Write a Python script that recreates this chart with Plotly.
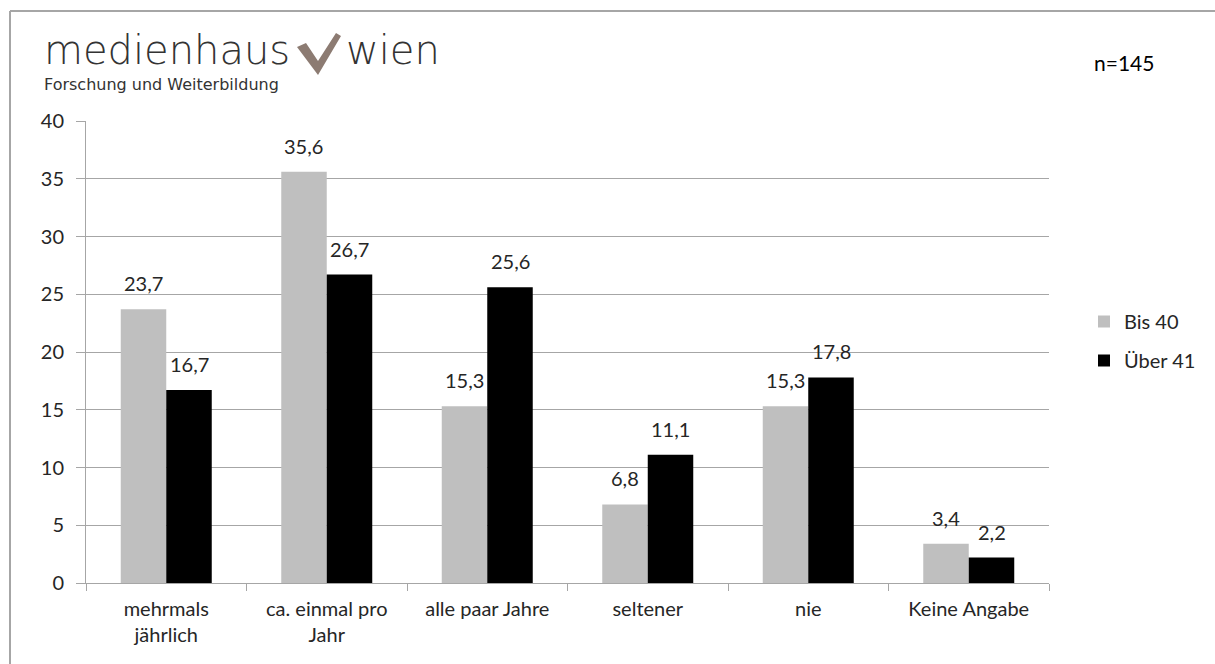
import plotly.graph_objects as go

categories = ["mehrmals<br>jährlich", "ca. einmal pro<br>Jahr", "alle paar Jahre",
              "seltener", "nie", "Keine Angabe"]
bis_40 = [23.7, 35.6, 15.3, 6.8, 15.3, 3.4]
ueber_41 = [16.7, 26.7, 25.6, 11.1, 17.8, 2.2]
series_names = ["Bis 40", "Über 41"]
y_ticks = [0, 5, 10, 15, 20, 25, 30, 35, 40]

FONT = "Lato"
TEXT = "#262626"
GRID = "#a6a6a6"

fig = go.Figure()
fig.add_trace(go.Bar(x=categories, y=bis_40, name=series_names[0], legendgroup="g1",
                     marker=dict(color="#bfbfbf", line=dict(width=0))))
fig.add_trace(go.Bar(x=categories, y=ueber_41, name=series_names[1], legendgroup="g2",
                     marker=dict(color="#000000", line=dict(width=0))))

# value labels above each bar
def fmt(v):
    return f"{v:.1f}".replace(".", ",")

annotations = []
for i, (a, b) in enumerate(zip(bis_40, ueber_41)):
    for v, off in ((a, -0.1425), (b, 0.1425)):
        annotations.append(dict(x=i + off, y=v, xref="x", yref="y", text=fmt(v),
                                showarrow=False, yshift=26, yanchor="middle",
                                font=dict(family=FONT, size=20, color=TEXT)))

def px(x):
    return (x - 86) / 963

def py(y):
    return (583 - y) / 462

# header: logo text and sample size
annotations += [
    dict(x=px(42), y=py(50), xref="paper", yref="paper", text="medienhaus",
         showarrow=False, xanchor="left", yanchor="middle",
         font=dict(family="DejaVu Sans", size=40, color="#333333", weight=200)),
    dict(x=px(42), y=py(84), xref="paper", yref="paper", text="Forschung und Weiterbildung",
         showarrow=False, xanchor="left", yanchor="middle",
         font=dict(family="DejaVu Sans", size=16, color="#333333")),
    dict(x=px(344), y=py(50), xref="paper", yref="paper", text="wien",
         showarrow=False, xanchor="left", yanchor="middle",
         font=dict(family="DejaVu Sans", size=40, color="#333333", weight=200)),
    dict(x=px(1124), y=py(62), xref="paper", yref="paper", text="n=145",
         showarrow=False, xanchor="center", yanchor="middle",
         font=dict(family=FONT, size=21, color="#000000")),
]

shapes = [
    # outer frame (top and left edges)
    dict(type="line", xref="paper", yref="paper", x0=px(10), y0=py(11), x1=px(1300), y1=py(11),
         line=dict(color="#a6a6a6", width=2)),
    dict(type="line", xref="paper", yref="paper", x0=px(10), y0=py(11), x1=px(10), y1=py(720),
         line=dict(color="#a6a6a6", width=2)),
    # check mark of the logo
    dict(type="path", xref="paper", yref="paper",
         path=(f"M {px(297)},{py(47)} L {px(306)},{py(43)} L {px(318)},{py(61)} "
               f"L {px(336)},{py(33)} L {px(341)},{py(36)} L {px(318)},{py(75)} Z"),
         fillcolor="#8c7b72", line=dict(width=0)),
]

fig.update_layout(
    width=1215, height=664,
    margin=dict(l=86, r=166, t=121, b=81),
    paper_bgcolor="white", plot_bgcolor="white",
    barmode="group", bargap=0.433, bargroupgap=0,
    font=dict(family=FONT, size=20, color=TEXT),
    showlegend=True,
    legend=dict(x=px(1084), y=py(302), xanchor="left", yanchor="top",
                font=dict(family=FONT, size=20, color=TEXT),
                itemwidth=30, tracegroupgap=10, bgcolor="rgba(0,0,0,0)"),
    annotations=annotations,
    shapes=shapes,
    xaxis=dict(showline=True, linecolor=GRID, linewidth=1, ticks="outside",
               tickson="boundaries", ticklen=7, tickcolor=GRID, ticklabelstandoff=8,
               tickfont=dict(family=FONT, size=20, color=TEXT)),
    yaxis=dict(range=[0, 40], tickvals=y_ticks, showgrid=True, gridcolor=GRID, gridwidth=1,
               showline=True, linecolor=GRID, linewidth=1, ticks="outside", ticklen=9,
               tickcolor=GRID, zeroline=False, ticklabelstandoff=8,
               tickfont=dict(family=FONT, size=20, color=TEXT)),
)

fig.write_html("out.html")
